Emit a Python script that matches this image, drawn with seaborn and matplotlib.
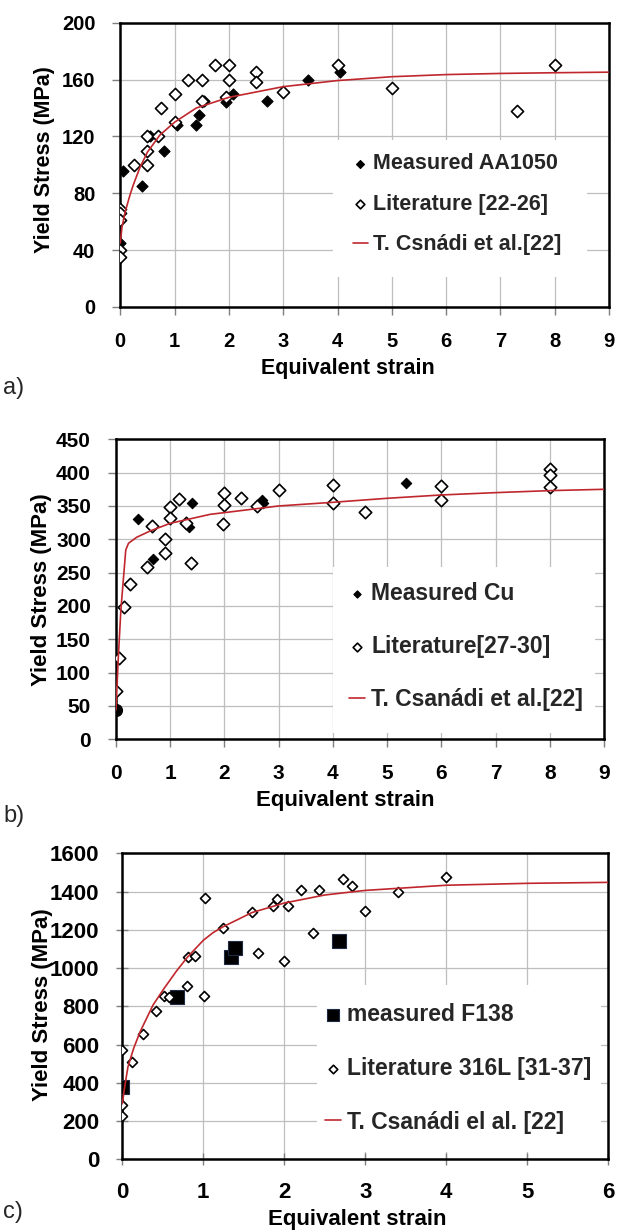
import matplotlib
matplotlib.use("Agg")
import matplotlib.pyplot as plt
import seaborn as sns
from matplotlib.patches import Rectangle

# ---------------- data ----------------
# a) AA1050
al_meas_strain = [0.0, 0.05, 0.4, 0.55, 0.8, 1.05, 1.4, 1.45, 1.55, 1.95, 2.07, 2.7, 3.45, 4.05]
al_meas_stress = [45, 96, 85, 120, 110, 128, 128, 135, 145, 144, 150, 145, 160, 165]
al_lit_strain = [0, 0, 0, 0, 0, 0.25, 0.5, 0.5, 0.5, 0.7, 0.75, 1.0, 1.0, 1.25, 1.5, 1.5,
                 1.75, 2.0, 2.0, 1.95, 2.5, 2.5, 3.0, 4.0, 5.0, 7.3, 8.0]
al_lit_stress = [69, 66, 61, 40, 35, 100, 120, 110, 100, 120, 140, 150, 130, 160, 160, 145,
                 170, 170, 160, 148, 165, 158, 151, 170, 154, 138, 170]
al_fit_strain = [0, 0.03, 0.09, 0.18, 0.24, 0.36, 0.5, 0.73, 1.0, 1.4, 2.0, 3.0, 4.0, 5.0, 6.0, 7.0, 8.0, 9.0]
al_fit_stress = [45, 56, 67, 79, 86, 98, 109, 121, 130, 140, 147.5, 155, 159.3, 162, 163.5, 164.3, 164.8, 165.2]

# b) Cu
cu_meas_strain = [0.4, 0.68, 1.35, 1.4, 2.0, 2.69, 2.71, 5.35]
cu_meas_stress = [330, 270, 318, 355, 353, 359, 354, 385]
cu_init_strain = [0.0]
cu_init_stress = [44]
cu_lit_strain = [0, 0.06, 0.15, 0.25, 0.57, 0.66, 0.9, 0.9, 1.0, 1.0, 1.16, 1.29, 1.39, 1.97,
                 2.0, 2.0, 2.3, 2.6, 3.0, 4.0, 4.0, 4.6, 6.0, 6.0, 8.0, 8.0, 8.0]
cu_lit_stress = [73, 122, 199, 233, 259, 320, 300, 279, 349, 332, 360, 324, 264, 323,
                 369, 351, 362, 350, 374, 381, 354, 341, 380, 359, 405, 397, 379]
cu_fit_strain = [0, 0.04, 0.09, 0.15, 0.18, 0.23, 0.38, 0.63, 1.0, 1.33, 1.74, 2, 3, 4, 5, 6, 7, 8, 9]
cu_fit_stress = [44, 119, 194, 254, 284, 294, 303, 312.5, 324, 330, 337.5, 340, 350, 355.5,
                 361.5, 366.5, 370, 373, 375]

# c) F138 / 316L
ss_meas_strain = [0, 0.67, 1.34, 1.39, 2.68]
ss_meas_stress = [380, 850, 1059, 1103, 1141]
ss_lit_strain = [0, 0, 0, 0.12, 0.25, 0.42, 0.51, 0.58, 0.8, 0.81, 0.9, 1.01, 1.02, 1.24, 1.6,
                 1.67, 1.86, 1.91, 2.0, 2.05, 2.2, 2.35, 2.43, 2.72, 2.83, 3.0, 3.4, 4.0]
ss_lit_stress = [571, 284, 226, 510, 653, 777, 855, 847, 908, 1059, 1065, 854, 1365, 1208, 1295,
                 1080, 1326, 1361, 1038, 1326, 1408, 1182, 1408, 1464, 1429, 1300, 1399, 1478]
ss_fit_strain = [0, 0.03, 0.07, 0.14, 0.22, 0.3, 0.38, 0.51, 0.67, 0.81, 1.0, 1.12, 1.24, 1.6,
                 2.0, 2.5, 3.0, 4.0, 5.0, 6.0]
ss_fit_stress = [290, 380, 484, 580, 667, 737, 807, 890, 985, 1060, 1145, 1185, 1215, 1290,
                 1340, 1382, 1406, 1433, 1443, 1448]

a_labels = ["Measured AA1050", "Literature [22-26]", "T. Csnádi et al.[22]"]
b_labels = ["Measured Cu", "Literature[27-30]", "T. Csanádi et al.[22]"]
c_labels = ["measured F138", "Literature 316L [31-37]", "T. Csanádi el al. [22]"]

a_xticks, a_yticks = list(range(0, 10)), list(range(0, 201, 40))
b_xticks, b_yticks = list(range(0, 10)), list(range(0, 451, 50))
c_xticks, c_yticks = list(range(0, 7)), list(range(0, 1601, 200))

x_title = "Equivalent strain"
y_title = "Yield Stress (MPa)"

# ---------------- style ----------------
sns.set_theme(style="white")
plt.rcParams["font.family"] = ["Liberation Sans", "DejaVu Sans"]

FIT_RED = "#C0272D"
GRID = "#BEBEBE"
W, H = 617, 1232

fig = plt.figure(figsize=(W / 100, H / 100), dpi=100)


def axes_px(left, top, right, bottom):
    return fig.add_axes([left / W, 1 - bottom / H, (right - left) / W, (bottom - top) / H])


def style_axes(ax, xticks, yticks, tick_size, tick_dir="out", tick_len=6):
    ax.set_xlim(xticks[0], xticks[-1])
    ax.set_ylim(yticks[0], yticks[-1])
    ax.set_xticks(xticks)
    ax.set_yticks(yticks)
    ax.set_xticklabels([str(t) for t in xticks])
    ax.set_yticklabels([str(t) for t in yticks])
    for lab in ax.get_xticklabels() + ax.get_yticklabels():
        lab.set_fontweight("bold")
        lab.set_fontsize(tick_size)
        lab.set_color("black")
    ax.grid(True, color=GRID, linewidth=0.9)
    ax.set_axisbelow(True)
    ax.tick_params(axis="both", which="major", direction=tick_dir, length=tick_len,
                   width=1.0, color="#7F7F7F", pad=12,
                   bottom=True, left=True, top=False, right=False)
    for s in ax.spines.values():
        s.set_visible(True)
        s.set_color("black")
        s.set_linewidth(1.8)


def titles(ax, xl_pos, yl_pos, size):
    ax.set_xlabel(x_title, fontsize=size, fontweight="bold", color="black")
    ax.set_ylabel(y_title, fontsize=size, fontweight="bold", color="black")
    ax.xaxis.label.set_verticalalignment("center")
    ax.yaxis.label.set_verticalalignment("center")
    ax.xaxis.set_label_coords(*xl_pos)
    ax.yaxis.set_label_coords(*yl_pos)


def blank_box(ax, x0, y0, x1, y1):
    ax.add_patch(Rectangle((x0, y0), x1 - x0, y1 - y0, transform=ax.transAxes,
                           facecolor="white", edgecolor="none", zorder=1))


def add_legend(ax, anchor, size, spacing, mscale=0.75):
    handles, labels = ax.get_legend_handles_labels()
    ax.legend(handles, labels, loc="upper left", bbox_to_anchor=anchor, frameon=False,
              borderpad=0, borderaxespad=0, handlelength=0.7, handletextpad=0.25,
              labelspacing=spacing, markerscale=mscale, scatterpoints=1,
              prop={"weight": "bold", "size": size})


# ---------------- a) ----------------
ax_a = axes_px(120.3, 22.7, 609, 307)
sns.scatterplot(x=al_meas_strain, y=al_meas_stress, marker="D", s=32, color="black",
                edgecolor="black", linewidth=0.8, zorder=3, ax=ax_a, label=a_labels[0])
sns.scatterplot(x=al_lit_strain, y=al_lit_stress, marker="D", s=38, color="white",
                edgecolor="black", linewidth=1.2, zorder=3, ax=ax_a, label=a_labels[1])
sns.lineplot(x=al_fit_strain, y=al_fit_stress, sort=False, estimator=None, color=FIT_RED,
             linewidth=1.2, zorder=4, ax=ax_a, label=a_labels[2])
style_axes(ax_a, a_xticks, a_yticks, 14.5)
titles(ax_a, (0.466, -0.215), (-0.156, 0.517), 15.5)
blank_box(ax_a, 0.435, 0.105, 0.955, 0.587)
add_legend(ax_a, (0.476, 0.54), 15.5, 0.9, mscale=0.72)
fig.text(3 / W, 1 - 388 / H, "a)", fontsize=17, ha="left", va="center")

# ---------------- b) ----------------
ax_b = axes_px(116, 439.3, 604, 739.3)
sns.scatterplot(x=cu_meas_strain, y=cu_meas_stress, marker="D", s=28, color="black",
                edgecolor="black", linewidth=0.8, zorder=3, ax=ax_b, label=b_labels[0])
sns.scatterplot(x=cu_lit_strain, y=cu_lit_stress, marker="D", s=40, color="white",
                edgecolor="black", linewidth=1.2, zorder=3, ax=ax_b, label=b_labels[1])
sns.scatterplot(x=cu_init_strain, y=cu_init_stress, marker="o", s=75, color="black",
                edgecolor="black", linewidth=0.8, zorder=3, ax=ax_b, legend=False)
sns.lineplot(x=cu_fit_strain, y=cu_fit_stress, sort=False, estimator=None, color=FIT_RED,
             linewidth=1.2, zorder=4, ax=ax_b, label=b_labels[2])
style_axes(ax_b, b_xticks, b_yticks, 15)
titles(ax_b, (0.469, -0.205), (-0.152, 0.5), 16)
blank_box(ax_b, 0.445, 0.021, 0.982, 0.574)
add_legend(ax_b, (0.478, 0.523), 16.5, 1.3, mscale=0.7)
fig.text(3 / W, 1 - 816 / H, "b)", fontsize=17, ha="left", va="center")

# ---------------- c) ----------------
ax_c = axes_px(122.3, 853.3, 608.3, 1159.3)
sns.scatterplot(x=ss_meas_strain, y=ss_meas_stress, marker="s", s=100, color="black",
                edgecolor="#1F2A44", linewidth=0.8, zorder=3, ax=ax_c, label=c_labels[0])
sns.scatterplot(x=ss_lit_strain, y=ss_lit_stress, marker="D", s=26, color="white",
                edgecolor="black", linewidth=1.2, zorder=3, ax=ax_c, label=c_labels[1])
sns.lineplot(x=ss_fit_strain, y=ss_fit_stress, sort=False, estimator=None, color=FIT_RED,
             linewidth=1.2, zorder=4, ax=ax_c, label=c_labels[2])
style_axes(ax_c, c_xticks, c_yticks, 16, tick_dir="inout", tick_len=9)
titles(ax_c, (0.483, -0.198), (-0.165, 0.504), 16)
blank_box(ax_c, 0.4006, 0.024, 0.986, 0.57)
add_legend(ax_c, (0.417, 0.512), 16.5, 1.35, mscale=0.85)
fig.text(3 / W, 1 - 1212 / H, "c)", fontsize=17, ha="left", va="center")

fig.savefig("out.png", dpi=100)
